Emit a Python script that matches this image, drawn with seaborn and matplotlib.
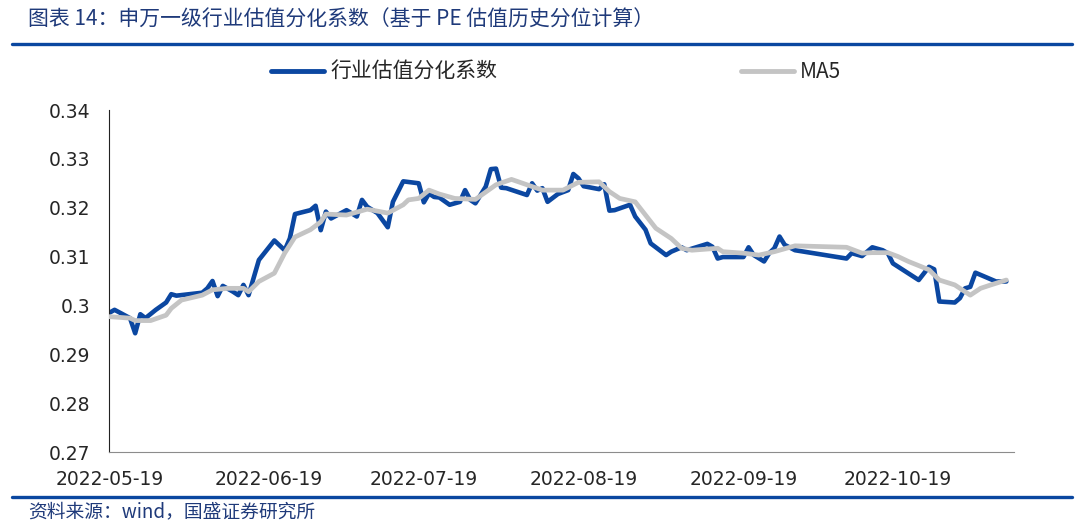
import pandas as pd
import matplotlib.pyplot as plt
import matplotlib.dates as mdates
import seaborn as sns
from matplotlib.lines import Line2D

# 行业估值分化系数
dates = ["2022-05-19", "2022-05-20", "2022-05-23", "2022-05-24", "2022-05-25", "2022-05-26",
         "2022-05-28", "2022-05-30", "2022-05-31", "2022-06-01", "2022-06-06", "2022-06-07",
         "2022-06-08", "2022-06-09", "2022-06-10", "2022-06-12", "2022-06-13", "2022-06-14",
         "2022-06-15", "2022-06-17", "2022-06-20", "2022-06-22", "2022-06-23", "2022-06-24",
         "2022-06-27", "2022-06-28", "2022-06-29", "2022-06-30", "2022-07-01", "2022-07-04",
         "2022-07-06", "2022-07-07", "2022-07-08", "2022-07-10", "2022-07-12", "2022-07-13",
         "2022-07-15", "2022-07-18", "2022-07-19", "2022-07-20", "2022-07-21", "2022-07-22",
         "2022-07-24", "2022-07-26", "2022-07-27", "2022-07-28", "2022-07-29", "2022-07-31",
         "2022-08-01", "2022-08-02", "2022-08-03", "2022-08-04", "2022-08-08", "2022-08-09",
         "2022-08-10", "2022-08-11", "2022-08-12", "2022-08-14", "2022-08-16", "2022-08-17",
         "2022-08-18", "2022-08-19", "2022-08-21", "2022-08-22", "2022-08-23", "2022-08-24",
         "2022-08-25", "2022-08-28", "2022-08-29", "2022-08-31", "2022-09-01", "2022-09-04",
         "2022-09-05", "2022-09-07", "2022-09-08", "2022-09-12", "2022-09-13", "2022-09-14",
         "2022-09-15", "2022-09-19", "2022-09-20", "2022-09-21", "2022-09-23", "2022-09-24",
         "2022-09-25", "2022-09-26", "2022-09-27", "2022-09-29", "2022-10-09", "2022-10-10",
         "2022-10-12", "2022-10-14", "2022-10-16", "2022-10-17", "2022-10-18", "2022-10-23",
         "2022-10-25", "2022-10-26", "2022-10-27", "2022-10-30", "2022-10-31", "2022-11-01",
         "2022-11-02", "2022-11-03", "2022-11-07", "2022-11-09"]
coef = [0.2985, 0.2991, 0.2974, 0.2943, 0.2982, 0.2974,
        0.2991, 0.3006, 0.3023, 0.3020, 0.3026, 0.3035,
        0.3050, 0.3019, 0.3040, 0.3028, 0.3021, 0.3042,
        0.3021, 0.3093, 0.3133, 0.3113, 0.3137, 0.3187,
        0.3195, 0.3204, 0.3154, 0.3192, 0.3178, 0.3195,
        0.3182, 0.3216, 0.3202, 0.3189, 0.3160, 0.3212,
        0.3254, 0.3250, 0.3211, 0.3229, 0.3222, 0.3221,
        0.3206, 0.3212, 0.3236, 0.3216, 0.3209, 0.3243,
        0.3279, 0.3280, 0.3241, 0.3240, 0.3226, 0.3250,
        0.3235, 0.3240, 0.3212, 0.3228, 0.3236, 0.3269,
        0.3260, 0.3244, 0.3240, 0.3238, 0.3248, 0.3194,
        0.3195, 0.3206, 0.3182, 0.3155, 0.3127, 0.3103,
        0.3110, 0.3119, 0.3113, 0.3126, 0.3120, 0.3096,
        0.3099, 0.3099, 0.3119, 0.3103, 0.3090, 0.3107,
        0.3117, 0.3141, 0.3124, 0.3113, 0.3096, 0.3107,
        0.3101, 0.3119, 0.3113, 0.3107, 0.3086, 0.3052,
        0.3079, 0.3074, 0.3008, 0.3006, 0.3015, 0.3035,
        0.3038, 0.3067, 0.3049, 0.3049]

# MA5
ma_dates = ["2022-05-19", "2022-05-23", "2022-05-24", "2022-05-27", "2022-05-30", "2022-05-31",
            "2022-06-02", "2022-06-06", "2022-06-08", "2022-06-11", "2022-06-14", "2022-06-15",
            "2022-06-17", "2022-06-20", "2022-06-22", "2022-06-24", "2022-06-27", "2022-06-29",
            "2022-06-30", "2022-07-04", "2022-07-08", "2022-07-10", "2022-07-12", "2022-07-15",
            "2022-07-16", "2022-07-18", "2022-07-20", "2022-07-22", "2022-07-25", "2022-07-29",
            "2022-08-02", "2022-08-05", "2022-08-11", "2022-08-15", "2022-08-18", "2022-08-22",
            "2022-08-24", "2022-08-26", "2022-08-29", "2022-08-31", "2022-09-02", "2022-09-05",
            "2022-09-07", "2022-09-09", "2022-09-14", "2022-09-15", "2022-09-19", "2022-09-22",
            "2022-09-25", "2022-09-29", "2022-10-09", "2022-10-12", "2022-10-14", "2022-10-17",
            "2022-10-19", "2022-10-21", "2022-10-25", "2022-10-27", "2022-10-30", "2022-11-02",
            "2022-11-04", "2022-11-06", "2022-11-09"]
ma5 = [0.2977, 0.2974, 0.2969, 0.2969, 0.2980, 0.2994,
       0.3011, 0.3021, 0.3032, 0.3035, 0.3035, 0.3028,
       0.3049, 0.3066, 0.3107, 0.3140, 0.3155, 0.3171,
       0.3187, 0.3185, 0.3197, 0.3193, 0.3189, 0.3206,
       0.3216, 0.3219, 0.3236, 0.3228, 0.3219, 0.3217,
       0.3247, 0.3258, 0.3236, 0.3236, 0.3252, 0.3253,
       0.3233, 0.3219, 0.3212, 0.3185, 0.3158, 0.3137,
       0.3117, 0.3113, 0.3117, 0.3110, 0.3107, 0.3103,
       0.3110, 0.3122, 0.3119, 0.3107, 0.3108, 0.3108,
       0.3100, 0.3090, 0.3073, 0.3052, 0.3042, 0.3021,
       0.3035, 0.3042, 0.3052]

tick_dates = ["2022-05-19", "2022-06-19", "2022-07-19", "2022-08-19", "2022-09-19", "2022-10-19"]
y_ticks = [0.27, 0.28, 0.29, 0.30, 0.31, 0.32, 0.33, 0.34]

title = "图表 14：申万一级行业估值分化系数（基于 PE 估值历史分位计算）"
source = "资料来源：wind，国盛证券研究所"
series_name = "行业估值分化系数"
ma_name = "MA5"

blue = "#0B47A1"
gray = "#C4C4C4"
navy = "#1F3A7A"

sns.set_style("white")
plt.rcParams["font.family"] = ["Noto Sans CJK SC", "DejaVu Sans"]

df = pd.DataFrame({"date": pd.to_datetime(dates), "value": coef})
df_ma = pd.DataFrame({"date": pd.to_datetime(ma_dates), "value": ma5})

fig = plt.figure(figsize=(10.8, 5.3), dpi=100)
ax = fig.add_axes([109.4 / 1080, 1 - 452 / 530, (1014.5 - 109.4) / 1080, (452 - 110) / 530])

sns.lineplot(data=df, x="date", y="value", ax=ax, color=blue, linewidth=3.3, zorder=2)
sns.lineplot(data=df_ma, x="date", y="value", ax=ax, color=gray, linewidth=3.4, zorder=3)

ax.set_ylim(0.27, 0.34)
ax.set_yticks(y_ticks)
ax.set_yticklabels([f"{t:g}" for t in y_ticks], fontsize=13.5, family="DejaVu Sans")
ax.set_xlim(pd.Timestamp("2022-05-19"), pd.Timestamp("2022-11-10 14:00"))
ax.set_xticks(pd.to_datetime(tick_dates))
ax.xaxis.set_major_formatter(mdates.DateFormatter("%Y-%m-%d"))
for lab in ax.get_xticklabels():
    lab.set_fontsize(13.5)
    lab.set_family("DejaVu Sans")
ax.set_xlabel("")
ax.set_ylabel("")

for s in ["top", "right"]:
    ax.spines[s].set_visible(False)
ax.spines["left"].set_color("#222222")
ax.spines["bottom"].set_color("#8C8C8C")
ax.tick_params(axis="y", direction="in", length=5, width=1, color="#222222", pad=14)
ax.tick_params(axis="x", direction="in", length=5, width=1, color="#8C8C8C", pad=13)

handles = [Line2D([], [], color=blue, linewidth=3.5),
           Line2D([], [], color=gray, linewidth=3.5)]
fig.legend(handles, [series_name, ma_name], loc="center", ncol=2,
           bbox_to_anchor=(556 / 1080, 1 - 72 / 530), frameon=False,
           fontsize=15, handlelength=2.55, handletextpad=0.3, columnspacing=11.7)

fig.text(28 / 1080, 1 - 20 / 530, title, fontsize=15, color=navy, va="center", ha="left")
fig.text(28 / 1080, 1 - 512 / 530, source, fontsize=13.5, color=navy, va="center", ha="left")
fig.add_artist(Line2D([12 / 1080, 1072 / 1080], [1 - 44 / 530, 1 - 44 / 530],
                      color="#0A47A0", linewidth=2.4, transform=fig.transFigure))
fig.add_artist(Line2D([12 / 1080, 1072 / 1080], [1 - 497 / 530, 1 - 497 / 530],
                      color="#0A47A0", linewidth=2.4, transform=fig.transFigure))

fig.savefig("out.png", dpi=100)
